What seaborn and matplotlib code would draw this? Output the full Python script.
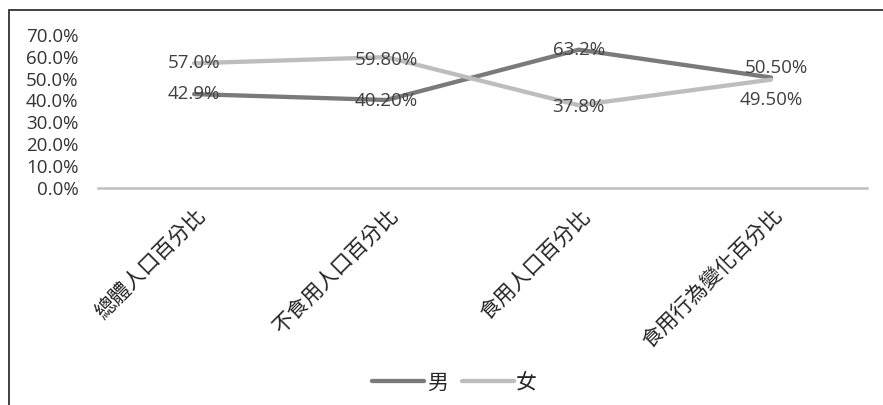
import matplotlib
matplotlib.use("Agg")
import matplotlib.pyplot as plt
from matplotlib.lines import Line2D
import pandas as pd
import seaborn as sns

categories = ["總體人口百分比", "不食用人口百分比", "食用人口百分比", "食用行為變化百分比"]
male_values = [42.9, 40.2, 63.2, 50.5]
female_values = [57.0, 59.8, 37.8, 49.5]
male_labels = ["42.9%", "40.20%", "63.2%", "50.50%"]
female_labels = ["57.0%", "59.80%", "37.8%", "49.50%"]
series_names = ["男", "女"]
y_ticks = [0, 10, 20, 30, 40, 50, 60, 70]

sns.set_theme(style="white")
plt.rcParams["font.family"] = ["Open Sans", "Noto Sans CJK TC", "DejaVu Sans"]

df = pd.DataFrame({
    "類別": categories * 2,
    "百分比": male_values + female_values,
    "性別": [series_names[0]] * 4 + [series_names[1]] * 4,
})

palette = {series_names[0]: "#7a7a7a", series_names[1]: "#bdbdbd"}

fig = plt.figure(figsize=(8.83, 4.05), dpi=100)
ax = fig.add_axes([0.111, 0.536, 0.871, 0.378])

sns.lineplot(data=df, x="類別", y="百分比", hue="性別", palette=palette,
             linewidth=3.1, sort=False, ax=ax, legend=True)

ax.set_xlim(-0.5, 3.5)
ax.set_ylim(0, 70)
ax.set_yticks(y_ticks)
ax.set_yticklabels([f"{v:.1f}%" for v in y_ticks], fontsize=13.5, color="#333333")
ax.tick_params(axis="y", length=0, pad=14)
ax.tick_params(axis="x", length=0, pad=12)
ax.set_xticks(range(len(categories)))
ax.set_xticklabels(categories, rotation=45, ha="right", rotation_mode="anchor",
                   fontsize=15, color="#222222",
                   family=["Noto Sans CJK TC", "DejaVu Sans"])
ax.set_xlabel("")
ax.set_ylabel("")
for side in ["top", "left", "right"]:
    ax.spines[side].set_visible(False)
ax.spines["bottom"].set_color("#bfbfbf")
ax.spines["bottom"].set_linewidth(1.8)

# value labels (last category split above / below the meeting point)
offsets_m = [(0, 0), (0, -1), (0, 0), (4, 7)]
offsets_f = [(0, 0), (0, -2), (0, -1), (0, -15)]
for i, (v, t, o) in enumerate(zip(male_values, male_labels, offsets_m)):
    ax.annotate(t, (i, v), xytext=o, textcoords="offset points",
                ha="center", va="center", fontsize=13.5, color="#404040")
for i, (v, t, o) in enumerate(zip(female_values, female_labels, offsets_f)):
    ax.annotate(t, (i, v), xytext=o, textcoords="offset points",
                ha="center", va="center", fontsize=13.5, color="#404040")

handles, labels = ax.get_legend_handles_labels()
ax.legend_.remove()
fig.legend(handles, labels, loc="center", bbox_to_anchor=(0.515, 0.055), ncol=2,
           frameon=False, handlelength=2.5, handletextpad=0.1, columnspacing=0.7,
           prop={"family": ["Noto Sans CJK TC", "DejaVu Sans"], "size": 15})

# outer frame edges
fig.add_artist(Line2D([9 / 883, 1], [1 - 10 / 405, 1 - 10 / 405],
                      transform=fig.transFigure, color="#404040", linewidth=1.4))
fig.add_artist(Line2D([9 / 883, 9 / 883], [0, 1 - 10 / 405],
                      transform=fig.transFigure, color="#404040", linewidth=1.4))

fig.savefig("out.png", dpi=100)
